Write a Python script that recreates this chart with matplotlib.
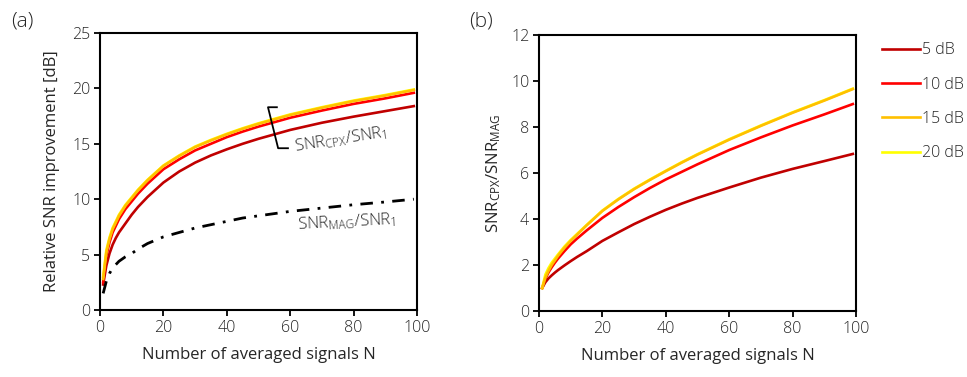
import numpy as np
import matplotlib
matplotlib.use("Agg")
import matplotlib.pyplot as plt

plt.rcParams['font.family'] = ['Open Sans', 'DejaVu Sans']
plt.rcParams['font.weight'] = 'light'
plt.rcParams['mathtext.default'] = 'regular'

# ---------------- data ----------------
N = [1, 2, 3, 4, 5, 6, 8, 10, 12, 15, 20, 25, 30, 35, 40, 45, 50, 60, 70, 80, 90, 99]

# (a) relative SNR improvement [dB]
cpx_5db = [2.3, 4.0, 5.1, 5.9, 6.5, 7.0, 7.8, 8.6, 9.3, 10.2, 11.5, 12.5, 13.3, 13.95,
           14.5, 15.0, 15.45, 16.25, 16.9, 17.45, 17.95, 18.4]
cpx_10db = [2.5, 4.9, 6.1, 7.0, 7.6, 8.2, 9.1, 9.8, 10.5, 11.4, 12.7, 13.6, 14.4, 15.0,
            15.6, 16.1, 16.55, 17.35, 18.0, 18.6, 19.1, 19.6]
cpx_15db = [2.8, 5.2, 6.4, 7.3, 7.9, 8.5, 9.4, 10.1, 10.8, 11.7, 13.0, 13.9, 14.7, 15.3,
            15.85, 16.35, 16.8, 17.6, 18.25, 18.85, 19.35, 19.85]
cpx_20db = [3.0, 5.4, 6.55, 7.42, 8.0, 8.6, 9.48, 10.17, 10.86, 11.75, 13.04, 13.95, 14.75, 15.35,
            15.9, 16.4, 16.85, 17.65, 18.3, 18.9, 19.4, 19.9]
mag = [1.5, 2.6, 3.3, 3.8, 4.1, 4.4, 4.8, 5.1, 5.5, 6.0, 6.6, 7.0, 7.4, 7.7,
       8.0, 8.3, 8.5, 8.9, 9.2, 9.5, 9.75, 10.0]

# (b) SNR_CPX / SNR_MAG
ratio_5db = [1.0, 1.25, 1.42, 1.55, 1.67, 1.78, 1.98, 2.17, 2.35, 2.6, 3.05, 3.42, 3.78, 4.1,
             4.4, 4.67, 4.92, 5.37, 5.8, 6.18, 6.52, 6.83]
ratio_10db = [1.0, 1.4, 1.68, 1.9, 2.1, 2.28, 2.6, 2.9, 3.15, 3.5, 4.05, 4.52, 4.95, 5.35,
              5.72, 6.05, 6.38, 7.0, 7.55, 8.07, 8.55, 9.0]
ratio_15db = [1.0, 1.45, 1.75, 2.0, 2.2, 2.4, 2.75, 3.05, 3.32, 3.72, 4.35, 4.85, 5.3, 5.7,
              6.08, 6.45, 6.8, 7.45, 8.05, 8.62, 9.15, 9.65]
ratio_20db = [1.0, 1.58, 1.87, 2.1, 2.28, 2.46, 2.8, 3.09, 3.35, 3.74, 4.37, 4.87, 5.32, 5.72,
              6.1, 6.47, 6.82, 7.47, 8.07, 8.64, 9.17, 9.67]

labels = ['5 dB', '10 dB', '15 dB', '20 dB']
colors = ['#C00000', '#FF0000', '#FFC000', '#FFFF00']

# bracket next to the CPX curves
bracket_x = [55.8, 53.0, 56.2, 59.3]
bracket_y = [18.3, 18.3, 14.6, 14.6]

txt_color = '#262626'
lw = 1.9

fig = plt.figure(figsize=(9.67, 3.77), dpi=100)
ax1 = fig.add_axes([0.1034, 0.1777, 0.3278, 0.7348])
ax2 = fig.add_axes([0.5574, 0.1750, 0.3278, 0.7320])


def style_axes(ax):
    for s in ax.spines.values():
        s.set_linewidth(1.5)
        s.set_color('black')
    ax.tick_params(direction='out', length=4, width=1.3, colors='black',
                   labelcolor=txt_color, labelsize=11.5, pad=3)
    ax.set_xlim(0, 100)
    ax.set_xticks([0, 20, 40, 60, 80, 100])
    ax.set_xlabel('Number of averaged signals N', fontsize=12, color=txt_color, labelpad=8)


# ---------------- (a) ----------------
cpx = [cpx_5db, cpx_10db, cpx_15db, cpx_20db]
draw_order = [0, 1, 3, 2]   # yellow under orange
for i in draw_order:
    ax1.plot(N, cpx[i], color=colors[i], lw=lw, solid_joinstyle='round')
ax1.plot(N, mag, color='black', lw=2.0, linestyle=(0, (4.5, 3, 1, 3)))
ax1.plot(bracket_x, bracket_y, color='black', lw=1.3)
ax1.set_ylim(0, 25)
ax1.set_yticks([0, 5, 10, 15, 20, 25])
style_axes(ax1)
ax1.set_ylabel('Relative SNR improvement [dB]', fontsize=12, color=txt_color, labelpad=9)
ax1.text(61.5, 14.3, r'SNR$_{CPX}$/SNR$_1$', fontsize=12, color=txt_color,
         rotation=9, ha='left', va='baseline', rotation_mode='anchor')
ax1.text(62.5, 7.3, r'SNR$_{MAG}$/SNR$_1$', fontsize=12, color=txt_color,
         rotation=3, ha='left', va='baseline', rotation_mode='anchor')
fig.text(0.012, 0.93, '(a)', fontsize=15, color=txt_color)

# ---------------- (b) ----------------
ratio = [ratio_5db, ratio_10db, ratio_15db, ratio_20db]
handles = [None] * 4
for i in draw_order:
    handles[i], = ax2.plot(N, ratio[i], color=colors[i], lw=lw, label=labels[i],
                           solid_joinstyle='round')
ax2.set_ylim(0, 12)
ax2.set_yticks([0, 2, 4, 6, 8, 10, 12])
style_axes(ax2)
ax2.set_ylabel(r'SNR$_{CPX}$/SNR$_{MAG}$', fontsize=12, color=txt_color, labelpad=6)
fig.text(0.485, 0.93, '(b)', fontsize=15, color=txt_color)

leg = fig.legend(handles, labels, loc='upper left', bbox_to_anchor=(0.905, 0.905),
                 frameon=False, fontsize=11.5, handlelength=2.4, handletextpad=0.15,
                 labelspacing=1.15, borderaxespad=0)
for t in leg.get_texts():
    t.set_color(txt_color)

plt.savefig('out.png', dpi=100)
